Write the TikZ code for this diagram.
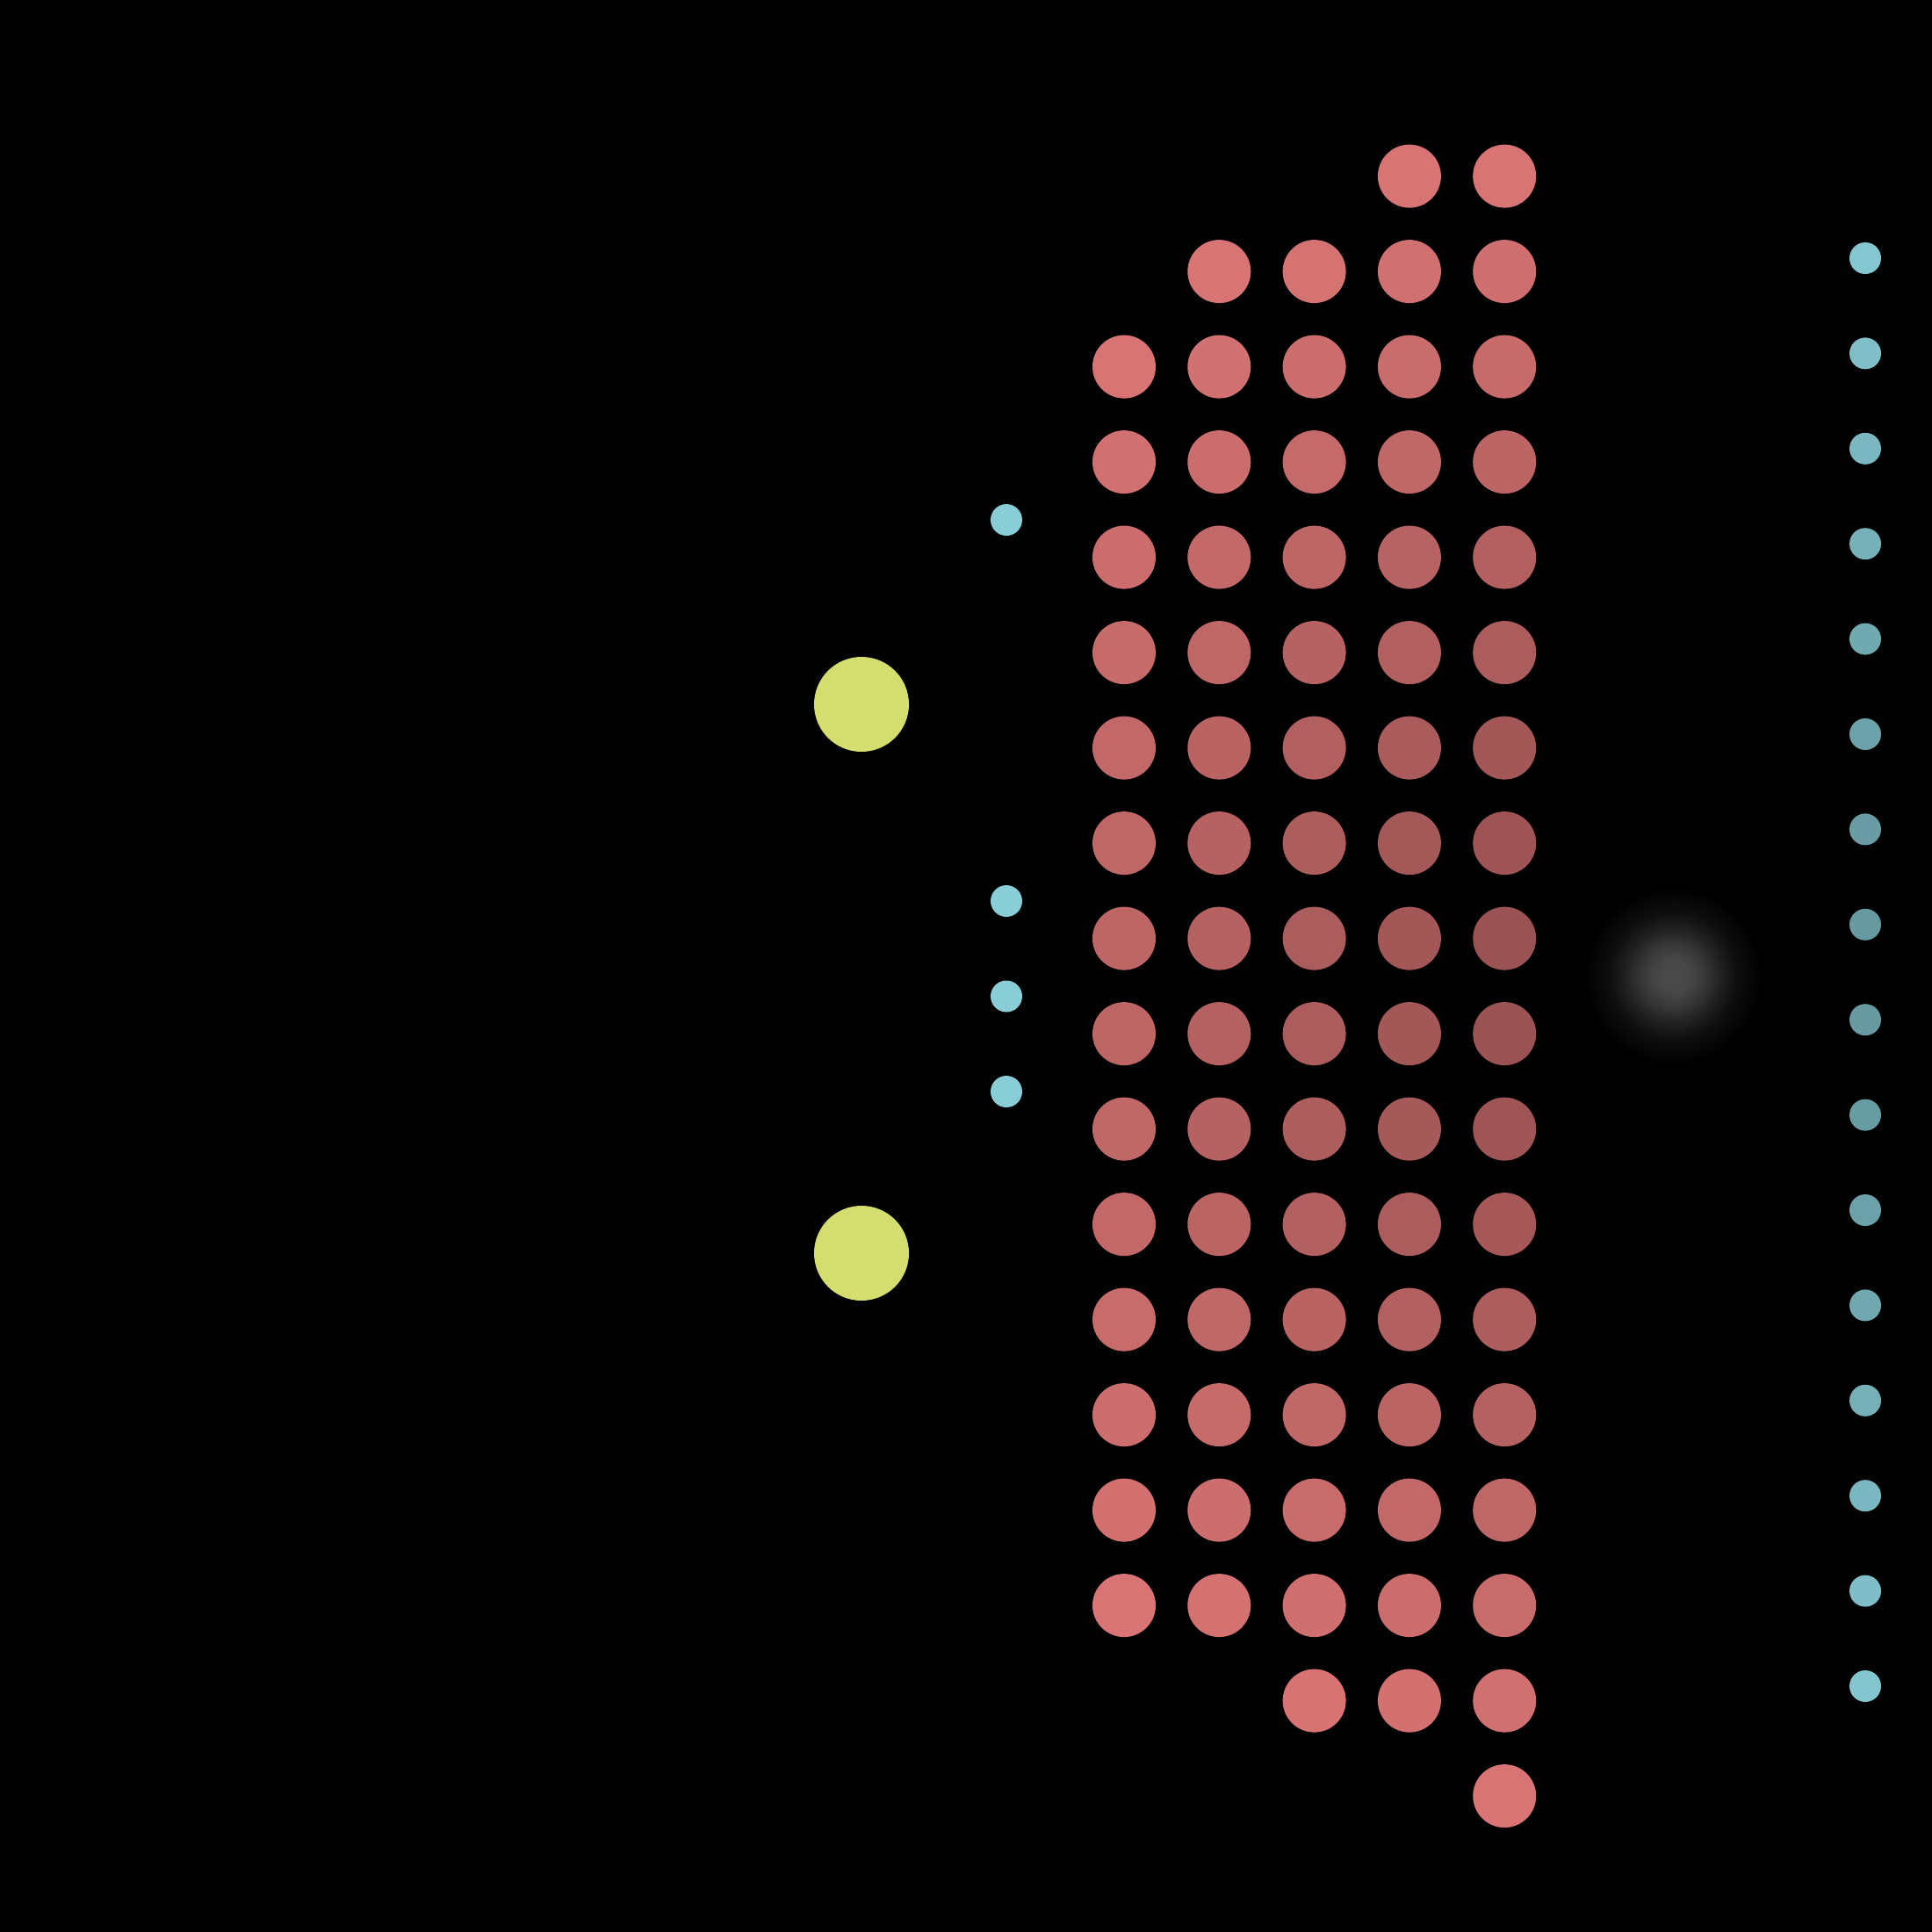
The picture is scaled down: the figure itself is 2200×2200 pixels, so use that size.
\documentclass[tikz,border=0pt]{standalone}
\definecolor{redlight}{HTML}{D87474}
\definecolor{reddark}{HTML}{9A5252}
\definecolor{cyanlight}{HTML}{89CDD7}
\definecolor{cyandark}{HTML}{65979E}
\definecolor{yellowdot}{HTML}{D4DE6E}
\definecolor{glowc}{HTML}{4C4C4C}
\pgfdeclareradialshading{glowshade}{\pgfpoint{0bp}{0bp}}{%
  color(0bp)=(glowc); color(5bp)=(glowc!92!black); color(9bp)=(glowc!72!black);
  color(13bp)=(glowc!45!black); color(18bp)=(glowc!18!black);
  color(25bp)=(black); color(50bp)=(black)}
\begin{document}
\begin{tikzpicture}
	[
		x=0.1mm, y=-0.1mm,
		reddot/.style={circle, inner sep=0pt, minimum size=7.2mm},
		bluedot/.style={circle, inner sep=0pt, minimum size=3.6mm},
		bigdot/.style={circle, inner sep=0pt, minimum size=10.8mm, fill=yellowdot}
	]

	\fill [black] (0,0) rectangle (2200,2200);
	\useasboundingbox (0,0) rectangle (2200,2200);

	\coordinate (glow) at (1905,1111);
	\shade [shading=glowshade] (glow) circle (10.2mm);

	\node (top)    at (981, 802)  [bigdot] {};
	\node (bottom) at (981, 1427) [bigdot] {};

	\foreach \c/\first/\last in {1/2/15, 2/1/15, 3/1/16, 4/0/16, 5/0/17} {
		\foreach \k in {\first,...,\last} {
			\pgfmathsetmacro{\px}{1280+108.3*(\c-1)}
			\pgfmathsetmacro{\py}{200.6+108.5*\k}
			\pgfmathtruncatemacro{\t}{max(0,min(100,100*(veclen((\px-1905)/100,(\py-1111)/100)-2)/7.3))}
			\colorlet{dotfill}{redlight!\t!reddark}
			\node (r-\c-\k) at (\px,\py) [reddot, fill=dotfill] {};
		}
	}

	\foreach \k in {0,...,15} {
		\pgfmathsetmacro{\py}{294+108.4*\k}
		\pgfmathtruncatemacro{\t}{max(0,min(100,100*(veclen((2124-1905)/100,(\py-1111)/100)-2)/7.3))}
		\colorlet{dotfill}{cyanlight!\t!cyandark}
		\node (c-\k) at (2124,\py) [bluedot, fill=dotfill] {};
	}

	\foreach \k in {0,4,5,6} {
		\pgfmathsetmacro{\py}{592+108.5*\k}
		\node (l-\k) at (1146,\py) [bluedot, fill=cyanlight] {};
	}
\end{tikzpicture}
\end{document}
